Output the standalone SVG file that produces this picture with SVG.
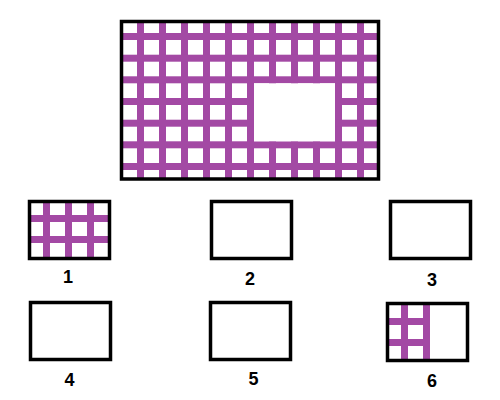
<svg xmlns="http://www.w3.org/2000/svg" width="500" height="400" viewBox="0 0 500 400">
<style>
.bar{fill:#A349A4}
.frame{fill:none;stroke:#000;stroke-width:3.5}
.lbl{font-family:"Liberation Sans",Arial,sans-serif;font-weight:bold;font-size:18px;text-anchor:middle;fill:#000}
</style>
<rect width="500" height="400" fill="#fff"/>
<g id="main">
<g class="bar">
<rect x="137" y="22" width="7" height="157"/>
<rect x="159" y="22" width="7" height="157"/>
<rect x="181" y="22" width="7" height="157"/>
<rect x="203" y="22" width="7" height="157"/>
<rect x="225" y="22" width="7" height="157"/>
<rect x="247" y="22" width="7" height="157"/>
<rect x="269" y="22" width="7" height="157"/>
<rect x="291" y="22" width="7" height="157"/>
<rect x="313" y="22" width="7" height="157"/>
<rect x="335" y="22" width="7" height="157"/>
<rect x="357" y="22" width="7" height="157"/>
<rect x="122" y="33" width="256" height="7"/>
<rect x="122" y="54.7" width="256" height="7"/>
<rect x="122" y="76.3" width="256" height="7"/>
<rect x="122" y="98" width="256" height="7"/>
<rect x="122" y="119.7" width="256" height="7"/>
<rect x="122" y="141.3" width="256" height="7"/>
<rect x="122" y="163" width="256" height="7"/>
</g>
<rect x="254" y="83.3" width="81" height="58" fill="#fff"/>
<rect class="frame" x="121.5" y="21.5" width="257" height="157.5"/>
</g>
<g id="opt1">
<g class="bar">
<rect x="43" y="202" width="7" height="56"/>
<rect x="65" y="202" width="7" height="56"/>
<rect x="87" y="202" width="7" height="56"/>
<rect x="30" y="215" width="79" height="7"/>
<rect x="30" y="236" width="79" height="7"/>
</g>
<rect class="frame" x="29.5" y="201.5" width="80" height="57"/>
<text class="lbl" x="68" y="283">1</text>
</g>
<g id="opt2">
<rect class="frame" x="211.5" y="201.5" width="80" height="57"/>
<text class="lbl" x="250" y="285">2</text>
</g>
<g id="opt3">
<rect class="frame" x="390.5" y="201.5" width="80" height="57"/>
<text class="lbl" x="432" y="286">3</text>
</g>
<g id="opt4">
<rect class="frame" x="30.5" y="302.5" width="80" height="57"/>
<text class="lbl" x="69.5" y="386">4</text>
</g>
<g id="opt5">
<rect class="frame" x="210.5" y="302.5" width="80" height="57"/>
<text class="lbl" x="253.5" y="385">5</text>
</g>
<g id="opt6">
<g class="bar">
<rect x="401" y="304" width="7" height="56"/>
<rect x="423" y="304" width="7" height="56"/>
<rect x="388" y="318" width="42" height="7"/>
<rect x="388" y="339" width="42" height="7"/>
</g>
<rect class="frame" x="387.5" y="303.5" width="80" height="57"/>
<text class="lbl" x="432" y="387">6</text>
</g>
<g id="connectors"/>
</svg>
